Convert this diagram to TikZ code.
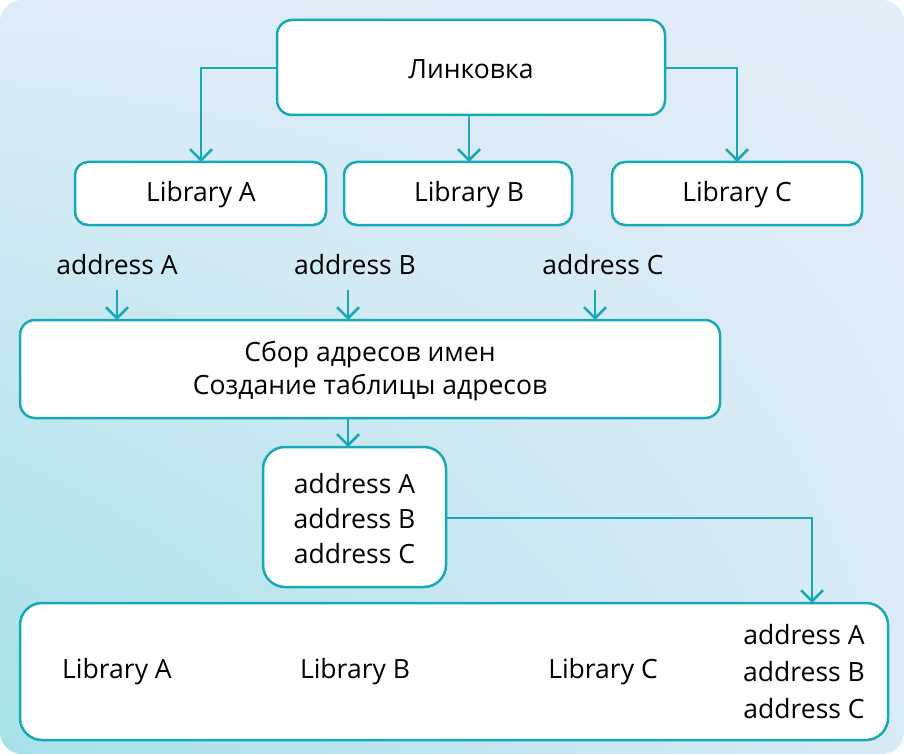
\documentclass[tikz,border=0pt]{standalone}
\usepackage{fontspec}
\setmainfont{Open Sans}
\usetikzlibrary{arrows.meta,shadings}
\definecolor{teal1}{HTML}{17A9B5}
\definecolor{bgA}{HTML}{E2EDF8}
\definecolor{bgB}{HTML}{A6E1E8}
\tikzset{
  box/.style={draw=teal1, line width=2.5pt, fill=white, rounded corners=15pt},
  conn/.style={draw=teal1, line width=2.5pt, -{Straight Barb[length=11pt,width=22pt,line width=2.5pt]}},
  lbl/.style={font=\fontsize{26.5}{33}\selectfont, text=black, inner sep=0pt, align=center}
}
\begin{document}
\begin{tikzpicture}[x=1pt,y=-1pt]
\useasboundingbox (0,0) rectangle (904,754);
\begin{scope}
\clip[rounded corners=22pt] (0,0) rectangle (904,754);
\shade[upper right=bgA, upper left=bgA!95!bgB, lower right=bgA!85!bgB, lower left=bgB] (0,0) rectangle (904,754);
\end{scope}
% boxes
\draw[box] (277,20) rectangle (665,115);
\node[lbl] (link) at (471,69) {Линковка};
\coordinate (linkL) at (277,68);
\coordinate (linkR) at (665,68);
\coordinate (linkB) at (469,115);

\draw[box, rounded corners=13pt] (75,162) rectangle (326,225);
\node[lbl] (libA) at (201,195) {Library A};
\draw[box, rounded corners=13pt] (344,162) rectangle (572,225);
\node[lbl] (libB) at (469,195) {Library B};
\draw[box, rounded corners=13pt] (612,162) rectangle (862,225);
\node[lbl] (libC) at (737,195) {Library C};
\coordinate (libAt) at (201,162);
\coordinate (libBt) at (469,162);
\coordinate (libCt) at (737,162);

\draw[conn] (linkL) -| (libAt);
\draw[conn] (linkB) -- (libBt);
\draw[conn] (linkR) -| (libCt);

\node[lbl] (adA) at (117,265) {address A};
\node[lbl] (adB) at (355,265) {address B};
\node[lbl] (adC) at (603,265) {address C};
\coordinate (aA1) at (117,290); \coordinate (aA2) at (117,320);
\coordinate (aB1) at (348,290); \coordinate (aB2) at (348,320);
\coordinate (aC1) at (595,290); \coordinate (aC2) at (595,320);

\draw[box] (20,320) rectangle (720,418);
\node[lbl] (collect) at (370,371) {Сбор адресов имен\\Создание таблицы адресов};
\draw[conn] (aA1) -- (aA2);
\draw[conn] (aB1) -- (aB2);
\draw[conn] (aC1) -- (aC2);

\draw[box, rounded corners=22pt] (263,447) rectangle (446,587);
\node[lbl, font=\fontsize{26.5}{35}\selectfont] (tbl) at (354.5,519) {address A\\address B\\address C};
\coordinate (cB) at (348,418);
\coordinate (tT) at (348,447);
\draw[conn] (cB) -- (tT);

\draw[box, rounded corners=22pt] (20,603) rectangle (888,740);
\node[lbl] (bA) at (117,672) {Library A};
\node[lbl] (bB) at (355,672) {Library B};
\node[lbl] (bC) at (603,672) {Library C};
\node[lbl, font=\fontsize{26.5}{37}\selectfont] (bD) at (804,672) {address A\\address B\\address C};
\coordinate (tR) at (446,518);
\coordinate (bT) at (812,603);
\draw[conn] (tR) -| (bT);
\end{tikzpicture}
\end{document}
